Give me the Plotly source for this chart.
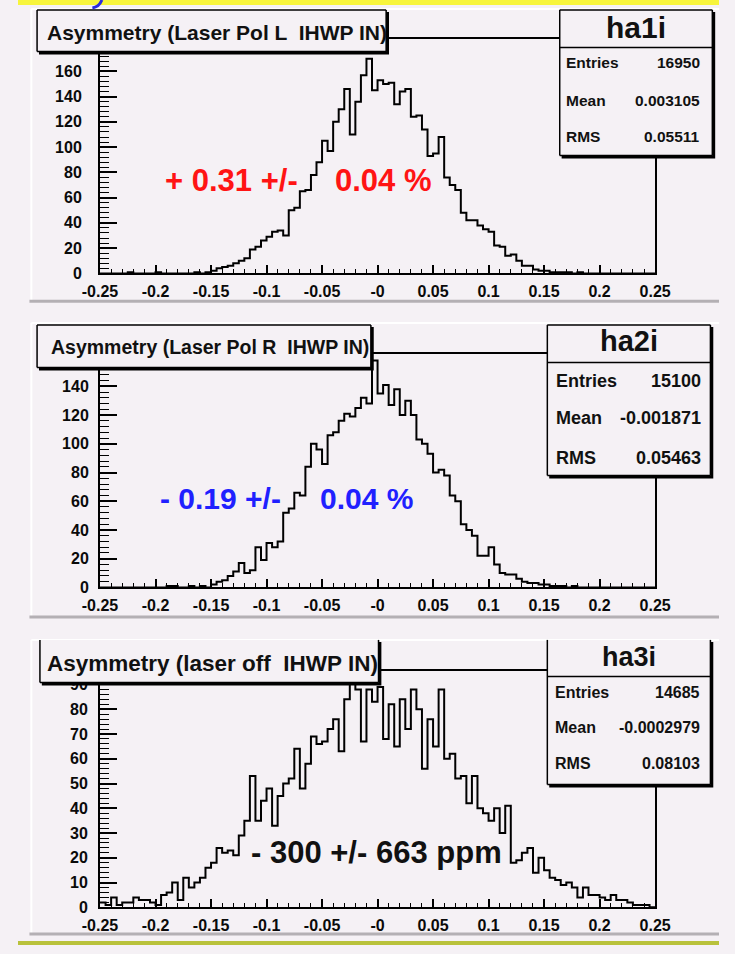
import plotly.graph_objects as go

W, H = 735, 954

# ---------------- data ----------------
BIN_LO, BIN_HI, NBINS = -0.25, 0.25, 100

counts_ha1i = [0, 0, 0, 0, 0, 1, 0, 0, 0, 0, 1, 0, 0, 0, 0, 0,
               0, 1, 0, 1, 2, 4, 5, 6, 8, 10, 12, 19, 21, 26, 29, 33, 34, 30, 50, 52,
               65, 66, 78, 88, 105, 97, 120, 130, 146, 110, 136, 157, 170, 145, 153, 150,
               151, 134, 144, 146, 124, 125, 114, 93, 95, 108, 76, 70, 66, 48, 42, 42,
               38, 35, 33, 22, 21, 14, 15, 10, 6, 6, 3, 2, 2, 1, 1, 1, 1, 0, 1,
               0, 0, 0, 0, 0, 0, 0, 0, 0, 0, 0, 0, 0]

counts_ha2i = [0, 0, 0, 0, 0, 0, 0, 0, 0, 0, 0, 0, 1, 1, 0, 0,
               1, 0, 1, 0, 2, 4, 5, 8, 11, 17, 10, 12, 28, 19, 31, 28, 32, 52, 55, 66,
               64, 84, 100, 96, 86, 106, 108, 116, 121, 119, 125, 132, 128, 158, 135, 141,
               127, 138, 120, 130, 120, 103, 100, 93, 80, 82, 78, 64, 60, 44, 40, 36,
               22, 22, 28, 16, 10, 9, 9, 6, 4, 3, 3, 2, 2, 1, 1, 1,
               0, 1, 0, 0, 0, 0, 0, 0, 0, 0, 0, 0, 0, 0, 0, 0]

counts_ha3i = [2, 1, 4, 1, 2, 2, 4, 3, 3, 2, 1, 5, 6, 10, 3, 12, 8, 10, 12, 16,
               18, 24, 22, 23, 21, 29, 35, 53, 35, 43, 48, 33, 45, 50, 52, 64, 48, 58, 69, 66,
               67, 72, 76, 63, 84, 93, 88, 67, 88, 83, 89, 68, 82, 65, 84, 72, 88, 80, 56, 76,
               65, 88, 60, 62, 52, 53, 42, 53, 40, 38, 35, 40, 30, 41, 18, 19, 22, 24, 14, 20,
               15, 12, 11, 9, 10, 8, 4, 8, 5, 5, 4, 3, 5, 3, 3, 2, 1, 1, 1, 0]

hist_names = ["ha1i", "ha2i", "ha3i"]
hist_titles = ["Asymmetry (Laser Pol L  IHWP IN)",
               "Asymmetry (Laser Pol R  IHWP IN)",
               "Asymmetry (laser off  IHWP IN)"]
entries = ["16950", "15100", "14685"]
means = ["0.003105", "-0.001871", "-0.0002979"]
rmss = ["0.05511", "0.05463", "0.08103"]
results = [("+ 0.31 +/-", "0.04 %"), ("- 0.19 +/-", "0.04 %"), ("- 300 +/- 663 ppm", None)]

x_tick_vals = [-0.25, -0.2, -0.15, -0.1, -0.05, 0.0, 0.05, 0.1, 0.15, 0.2, 0.25]
x_tick_text = ["-0.25", "-0.2", "-0.15", "-0.1", "-0.05", "-0", "0.05", "0.1", "0.15", "0.2", "0.25"]

y_tick_vals = [[0, 20, 40, 60, 80, 100, 120, 140, 160],
               [0, 20, 40, 60, 80, 100, 120, 140],
               [0, 10, 20, 30, 40, 50, 60, 70, 80, 90]]
y_max = [185.9, 162.8, 95.6]
y_minor = [4, 4, 2]

# ---------------- layout geometry (pixels) ----------------
FX0, FX1 = 86, 668
frames_y = [(39, 276), (357, 593), (677, 916)]
pads = [(9, 304), (326, 623), (646, 943)]
title_boxes = [(20, 10, 386, 52, True), (20, 328, 370, 371, True), (23, 646, 378, 689, False)]
stat_boxes = [(568, 10, 728, 157, 48, True), (555, 328, 726, 480, 366, True), (555, 646, 726, 792, 683, False)]
title_font = [21, 19.5, 22.5]
title_text_pos = [(28, 33), (33, 350), (28, 670)]
stat_name_font = [30, 29, 27]
stat_name_y = [28, 344, 663]
stat_row_y = [(63, 101, 138), (385, 422, 462), (699, 734, 771)]
stat_row_x = [(573, 717), (562, 718), (561, 717)]
stat_font = [15.5, 18, 16]
res_pos = [((152, 182), (330, 182)), ((147, 503), (315, 503)), ((242, 861), None)]
res_color = ["#ff1414", "#2020ff", "#111111"]
res_font = [31, 30, 31]
y_standoff = [13, 6, 7]

BG = "#f5f1f5"


def px(x):
    return x / W


def py(y):
    return 1 - y / H


fig = go.Figure()
edges = [BIN_LO + (BIN_HI - BIN_LO) * i / NBINS for i in range(NBINS + 1)]
all_counts = [counts_ha1i, counts_ha2i, counts_ha3i]

shapes = []
annotations = []
FONT = "Liberation Sans, Arial, Helvetica, sans-serif"

for k in range(3):
    xa = "x" if k == 0 else f"x{k+1}"
    ya = "y" if k == 0 else f"y{k+1}"
    c = all_counts[k]
    fig.add_trace(go.Scatter(x=edges, y=c + [c[-1]], mode="lines", line_shape="hv",
                             line=dict(color="black", width=2), xaxis=xa, yaxis=ya,
                             showlegend=False, hoverinfo="skip"))
    top, bot = frames_y[k]
    xkey = "xaxis" if k == 0 else f"xaxis{k+1}"
    ykey = "yaxis" if k == 0 else f"yaxis{k+1}"
    fig.layout[xkey] = dict(domain=[px(FX0), px(FX1)], anchor=ya, range=[BIN_LO, BIN_HI],
                            tickmode="array", tickvals=x_tick_vals, ticktext=x_tick_text,
                            ticks="inside", ticklen=8, tickwidth=1.5, tickcolor="black",
                            minor=dict(tick0=BIN_LO, dtick=0.01, ticks="inside", ticklen=4,
                                       tickwidth=1.2, tickcolor="black"),
                            showline=True, linecolor="black", linewidth=2, mirror=True,
                            showgrid=False, zeroline=False, ticklabelstandoff=2,
                            tickfont=dict(family=FONT, size=16, color="#0a0a0a", weight="bold"))
    fig.layout[ykey] = dict(domain=[py(bot), py(top)], anchor=xa, range=[0, y_max[k]],
                            tickmode="array", tickvals=y_tick_vals[k],
                            ticks="inside", ticklen=17, tickwidth=1.5, tickcolor="black",
                            minor=dict(tick0=0, dtick=y_minor[k], ticks="inside", ticklen=9,
                                       tickwidth=1.2, tickcolor="black"),
                            showline=True, linecolor="black", linewidth=2, mirror=True,
                            showgrid=False, zeroline=False, ticklabelstandoff=y_standoff[k],
                            tickfont=dict(family=FONT, size=16, color="#0a0a0a", weight="bold"))

    # pad bevel
    t, b = pads[k]
    shapes.append(dict(type="line", xref="paper", yref="paper", x0=px(14), x1=1, y0=py(t), y1=py(t),
                       line=dict(color="white", width=2), layer="below"))
    shapes.append(dict(type="line", xref="paper", yref="paper", x0=px(14), x1=px(14), y0=py(t), y1=py(b),
                       line=dict(color="white", width=2), layer="below"))
    shapes.append(dict(type="line", xref="paper", yref="paper", x0=px(12), x1=1, y0=py(b), y1=py(b),
                       line=dict(color="#b4b0b4", width=3), layer="below"))

    # title box
    x0, y0, x1, y1, has_top = title_boxes[k]
    shapes.append(dict(type="rect", xref="paper", yref="paper", x0=px(x0 + 2), x1=px(x1 + 3), y0=py(y1 + 3), y1=py(y0 + 2),
                       fillcolor="black", line=dict(width=0), layer="above"))
    shapes.append(dict(type="rect", xref="paper", yref="paper", x0=px(x0), x1=px(x1), y0=py(y1), y1=py(y0),
                       fillcolor=BG, line=dict(width=0), layer="above"))
    for (a, bb, cc, d) in ([(x0, y0, x0, y1), (x1, y0, x1, y1), (x0, y1, x1, y1)] + ([(x0, y0, x1, y0)] if has_top else [])):
        shapes.append(dict(type="line", xref="paper", yref="paper", x0=px(a), y0=py(bb), x1=px(cc), y1=py(d),
                           line=dict(color="black", width=1.5), layer="above"))
    tx, ty = title_text_pos[k]
    annotations.append(dict(xref="paper", yref="paper", x=px(tx), y=py(ty), text=hist_titles[k],
                            showarrow=False, xanchor="left", yanchor="middle",
                            font=dict(family=FONT, size=title_font[k], color="#111", weight="bold")))

    # stats box
    x0, y0, x1, y1, ysep, has_top = stat_boxes[k]
    shapes.append(dict(type="rect", xref="paper", yref="paper", x0=px(x0 + 2), x1=px(x1 + 3), y0=py(y1 + 3), y1=py(y0 + 2),
                       fillcolor="black", line=dict(width=0), layer="above"))
    shapes.append(dict(type="rect", xref="paper", yref="paper", x0=px(x0), x1=px(x1), y0=py(y1), y1=py(y0),
                       fillcolor=BG, line=dict(width=0), layer="above"))
    for (a, bb, cc, d) in ([(x0, y0, x0, y1), (x1, y0, x1, y1), (x0, y1, x1, y1), (x0, ysep, x1, ysep)] + ([(x0, y0, x1, y0)] if has_top else [])):
        shapes.append(dict(type="line", xref="paper", yref="paper", x0=px(a), y0=py(bb), x1=px(cc), y1=py(d),
                           line=dict(color="black", width=1.5), layer="above"))
    annotations.append(dict(xref="paper", yref="paper", x=px((x0 + x1) / 2), y=py(stat_name_y[k]), text=hist_names[k],
                            showarrow=False, xanchor="center", yanchor="middle",
                            font=dict(family=FONT, size=stat_name_font[k], color="#111", weight="bold")))
    lx, rx = stat_row_x[k]
    for lab, val, yy in zip(["Entries", "Mean", "RMS"], [entries[k], means[k], rmss[k]], stat_row_y[k]):
        annotations.append(dict(xref="paper", yref="paper", x=px(lx), y=py(yy), text=lab, showarrow=False,
                                xanchor="left", yanchor="middle",
                                font=dict(family=FONT, size=stat_font[k], color="#111", weight="bold")))
        annotations.append(dict(xref="paper", yref="paper", x=px(rx), y=py(yy), text=val, showarrow=False,
                                xanchor="right", yanchor="middle",
                                font=dict(family=FONT, size=stat_font[k], color="#111", weight="bold")))

    # result text
    (p1, p2) = res_pos[k]
    t1, t2 = results[k]
    annotations.append(dict(xref="paper", yref="paper", x=px(p1[0]), y=py(p1[1]), text=t1, showarrow=False,
                            xanchor="left", yanchor="middle",
                            font=dict(family=FONT, size=res_font[k], color=res_color[k], weight="bold")))
    if t2:
        annotations.append(dict(xref="paper", yref="paper", x=px(p2[0]), y=py(p2[1]), text=t2, showarrow=False,
                                xanchor="left", yanchor="middle",
                                font=dict(family=FONT, size=res_font[k], color=res_color[k], weight="bold")))

# page decorations
shapes.append(dict(type="rect", xref="paper", yref="paper", x0=0, x1=1, y0=py(5), y1=1,
                   fillcolor="#f7f53c", line=dict(width=0), layer="above"))
shapes.append(dict(type="path", xref="paper", yref="paper",
                   path=f"M {px(88)} {py(0)} Q {px(85)} {py(7)} {px(78)} {py(8)}",
                   line=dict(color="#2a2ae0", width=3), layer="above"))
shapes.append(dict(type="rect", xref="paper", yref="paper", x0=0, x1=1, y0=0, y1=py(950),
                   fillcolor="#b9c23c", line=dict(width=0), layer="above"))

fig.update_layout(width=W, height=H, autosize=False, margin=dict(l=0, r=0, t=0, b=0),
                  paper_bgcolor=BG, plot_bgcolor=BG, shapes=shapes, annotations=annotations,
                  showlegend=False)

fig.write_html("out.html", config={"displayModeBar": False},
               post_script="document.body.style.margin='0';document.body.style.overflow='hidden';")
